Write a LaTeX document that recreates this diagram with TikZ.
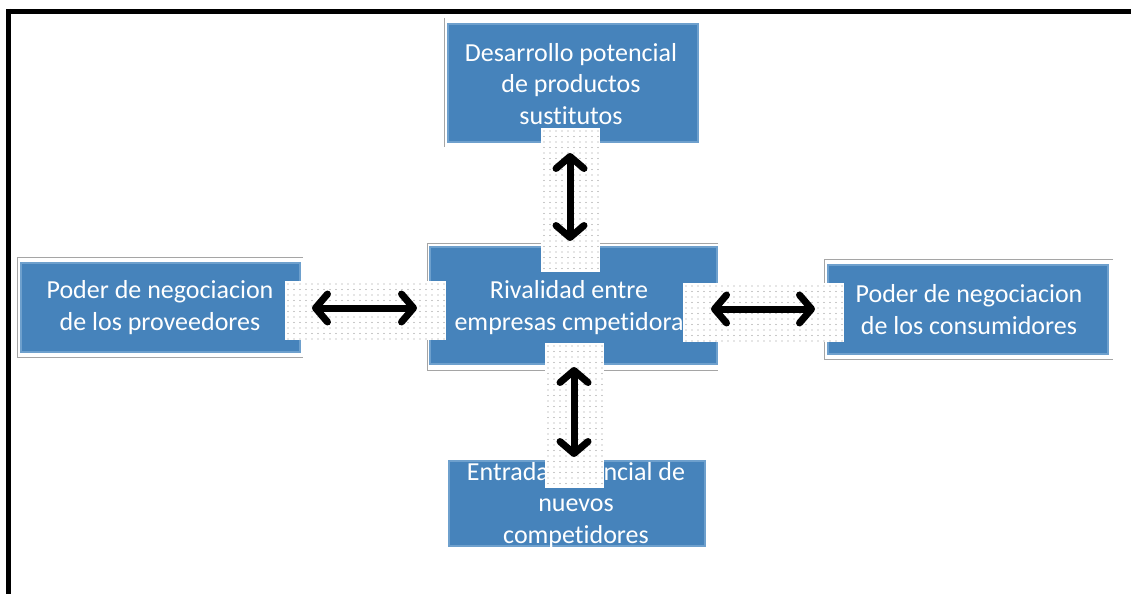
\documentclass[tikz,border=0pt]{standalone}
\usepackage{fontspec}
\setmainfont{Carlito}[Ligatures=NoCommon]
\usetikzlibrary{arrows.meta}
\definecolor{boxblue}{RGB}{70,131,187}
\definecolor{edgeblue}{RGB}{110,160,205}
\definecolor{framegray}{RGB}{165,165,165}
\newcommand{\dotpanel}[4]{%
  \fill[white] (#1,#2) rectangle (#3,#4);
  \begin{scope}
    \clip (#1,#2) rectangle (#3,#4);
    \pgfmathsetmacro{\xa}{#1+3}\pgfmathsetmacro{\xb}{#1+9}%
    \pgfmathsetmacro{\ya}{#2+3}\pgfmathsetmacro{\yb}{#2+8.5}%
    \foreach \xx in {\xa,\xb,...,#3} {
      \foreach \yy in {\ya,\yb,...,#4} {
        \fill[gray!85] (\xx,\yy) circle[radius=0.6pt];
      }
    }
  \end{scope}}
\begin{document}
\begin{tikzpicture}[x=1pt,y=-1pt,
  bluebox/.style={fill=boxblue,draw=edgeblue,line width=1.5pt},
  boxtext/.style={text=white,align=center,inner sep=0pt,font=\fontsize{26}{31.5}\selectfont},
  frameline/.style={draw=framegray,line width=0.9pt},
  arr/.style={line width=7pt,>={Straight Barb[length=12pt,width=28pt,round]},<->},
  border/.style={line width=5pt,black}]
\useasboundingbox (0,0) rectangle (1131,594);
% outer border
\draw[border] (6,11.5) -- (1131,11.5);
\draw[border] (8.5,9) -- (8.5,594);
% thin frames
\draw[frameline] (444,18) -- (444,147);
\draw[frameline] (718,243) -- (427,243) -- (427,370) -- (718,370);
\draw[frameline] (303,257) -- (17,257) -- (17,357) -- (303,357);
\draw[frameline] (1113,259) -- (824,259) -- (824,359) -- (1113,359);
% blue boxes
\draw[bluebox] (448,24) rectangle (698,142);
\draw[bluebox] (430,247) rectangle (717,364);
\draw[bluebox] (21,263) rectangle (300,352);
\draw[bluebox] (828,265) rectangle (1108,354);
\draw[bluebox] (449,461) rectangle (705,546);
% texts
\node[boxtext] (top) at (571,84) {Desarrollo potencial\\de productos\\sustitutos};
\node[boxtext] (mid) at (569,307.5) {Rivalidad entre\\empresas cmpetidora};
\node[boxtext] (left) at (160,307.5) {Poder de negociacion\\de los proveedores};
\node[boxtext] (right) at (969,309.5) {Poder de negociacion\\de los consumidores};
\node[boxtext] (bot) at (576,505) {Entrada potencial de\\nuevos\\competidores};
% dotted panels
\dotpanel{541}{128}{600}{272}
\dotpanel{285}{281}{446}{340}
\dotpanel{683}{283}{844}{342}
\dotpanel{545}{343}{604}{488}
% arrow end points
\coordinate (a1) at (570,153);
\coordinate (a2) at (570,241);
\coordinate (b1) at (312,308);
\coordinate (b2) at (417,308);
\coordinate (c1) at (711,309);
\coordinate (c2) at (815,309);
\coordinate (d1) at (574,367);
\coordinate (d2) at (574,457);
\draw[arr] (a1) -- (a2);
\draw[arr] (b1) -- (b2);
\draw[arr] (c1) -- (c2);
\draw[arr] (d1) -- (d2);
\end{tikzpicture}
\end{document}
